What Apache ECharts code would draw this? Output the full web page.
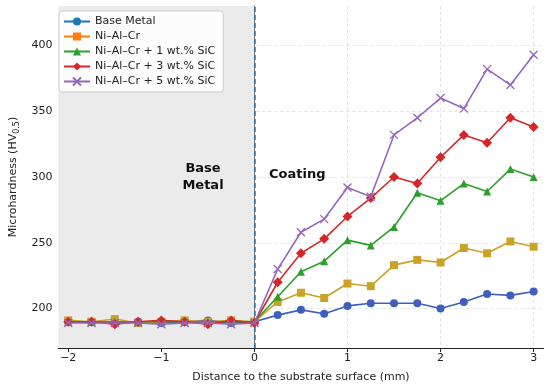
<!DOCTYPE html>
<html><head><meta charset="utf-8">
<script src="https://cdn.jsdelivr.net/npm/echarts@6/dist/echarts.min.js"></script>
<style>html,body{margin:0;padding:0;background:#fff}#c{width:550px;height:388px}</style>
</head><body><div id="c"></div>
<script>
const xValues = [-2,-1.75,-1.5,-1.25,-1,-0.75,-0.5,-0.25,0,0.25,0.5,0.75,1,1.25,1.5,1.75,2,2.25,2.5,2.75,3];
const seriesNames = ['Base Metal','Ni–Al–Cr','Ni–Al–Cr + 1 wt.% SiC','Ni–Al–Cr + 3 wt.% SiC','Ni–Al–Cr + 5 wt.% SiC'];
const baseMetal = [190,190,189,190,189,190,191,189,190,195,199,196,202,204,204,204,200,205,211,210,213];
const niAlCr    = [191,190,192,189,190,191,190,191,190,205,212,208,219,217,233,237,235,246,242,251,247];
const sic1      = [190,190,190,190,190,190,190,190,190,209,228,236,252,248,262,288,282,295,289,306,300];
const sic3      = [190,190,188,190,191,190,188,191,189,220,242,253,270,284,300,295,315,332,326,345,338];
const sic5      = [189,189,189,189,188,189,189,188,189,230,258,268,292,285,332,345,360,352,382,370,393];
const xTicks = [-2,-1,0,1,2,3];
const yTicks = [200,250,300,350,400];

const lineColors = ['#3f5fbf','#c9a227','#2ca02c','#d62728','#9467bd'];
const legendColors = ['#1f77b4','#ff7f0e','#2ca02c','#d62728','#9467bd'];
const symbols = ['circle','rect','triangle','diamond','path://M0,0L10,10M10,0L0,10'];
const sizes = [8,8,8,10,8];
const allData = [baseMetal,niAlCr,sic1,sic3,sic5];

const chart = echarts.init(document.getElementById('c'));
const fmt = v => String(v).replace('-', '\u2212');
const series = allData.map((d,i)=>({
  name: seriesNames[i], type:'line',
  data: d.map((v,j)=>[xValues[j], v]),
  symbol: symbols[i], symbolSize: sizes[i],
  lineStyle:{color:lineColors[i], width:1.6},
  itemStyle: i===4 ? {color:lineColors[i], borderColor:lineColors[i], borderWidth:1.3} : {color:lineColors[i]},
  z: 3+i,
  animation:false
}));
series[0].markArea = {silent:true, itemStyle:{color:'#ebebeb'}, data:[[{xAxis:-2.11},{xAxis:0}]]};
series[0].markLine = {silent:true, symbol:'none', label:{show:false}, lineStyle:{color:'#1f77b4', type:[5,3], width:1.5}, data:[{xAxis:0}]};

chart.setOption({
  animation:false,
  grid:{left:53.5, right:6.5, top:6, bottom:40},
  xAxis:{type:'value', min:-2.106, max:3.106,
    name:'Distance to the substrate surface (mm)', nameLocation:'middle', nameGap:24,
    nameTextStyle:{fontFamily:'DejaVu Sans', fontSize:11, color:'#222'},
    axisLine:{onZero:false, lineStyle:{color:'#222', width:1}},
    axisTick:{show:true, length:4, inside:false, customValues:xTicks, lineStyle:{color:'#222'}},
    axisLabel:{customValues:xTicks, formatter:fmt, fontFamily:'DejaVu Sans', fontSize:11, color:'#222', margin:5},
    splitLine:{show:true, lineStyle:{color:'#dcdcdc', type:[3,3], width:0.8}}
  },
  yAxis:{type:'value', min:170, max:430,
    name:'{a|Microhardness (HV}{s|0.5}{a|)}', nameLocation:'middle', nameGap:37,
    nameTextStyle:{rich:{a:{fontFamily:'DejaVu Sans', fontSize:11, color:'#222'}, s:{fontFamily:'DejaVu Sans', fontSize:8, color:'#222', verticalAlign:'bottom', padding:[6,0,0,0]}}},
    axisLine:{show:true, lineStyle:{color:'#222', width:1}},
    axisTick:{show:true, length:4, customValues:yTicks, lineStyle:{color:'#222'}},
    axisLabel:{customValues:yTicks, fontFamily:'DejaVu Sans', fontSize:11, color:'#222', margin:6},
    splitLine:{show:true, lineStyle:{color:'#dcdcdc', type:[3,3], width:0.8}}
  },
  legend:{orient:'vertical', left:59, top:11, itemGap:4, itemWidth:26, itemHeight:10,
    backgroundColor:'rgba(255,255,255,0.85)', borderColor:'#cccccc', borderWidth:1, borderRadius:3,
    padding:[5,8,5,4],
    textStyle:{fontFamily:'DejaVu Sans', fontSize:11, color:'#222'},
    data: seriesNames.map((n,i)=>({name:n, itemStyle:{color:legendColors[i], borderColor:legendColors[i]}, lineStyle:{color:legendColors[i], width:2}}))
  },
  graphic:[
    {type:'text', x:203, y:160, z:100, style:{text:'Base\nMetal', font:'bold 13px "DejaVu Sans"', fill:'#111', align:'center', lineHeight:17}},
    {type:'text', x:269, y:168, z:100, style:{text:'Coating', font:'bold 13px "DejaVu Sans"', fill:'#111'}}
  ],
  series: series
});
</script></body></html>
